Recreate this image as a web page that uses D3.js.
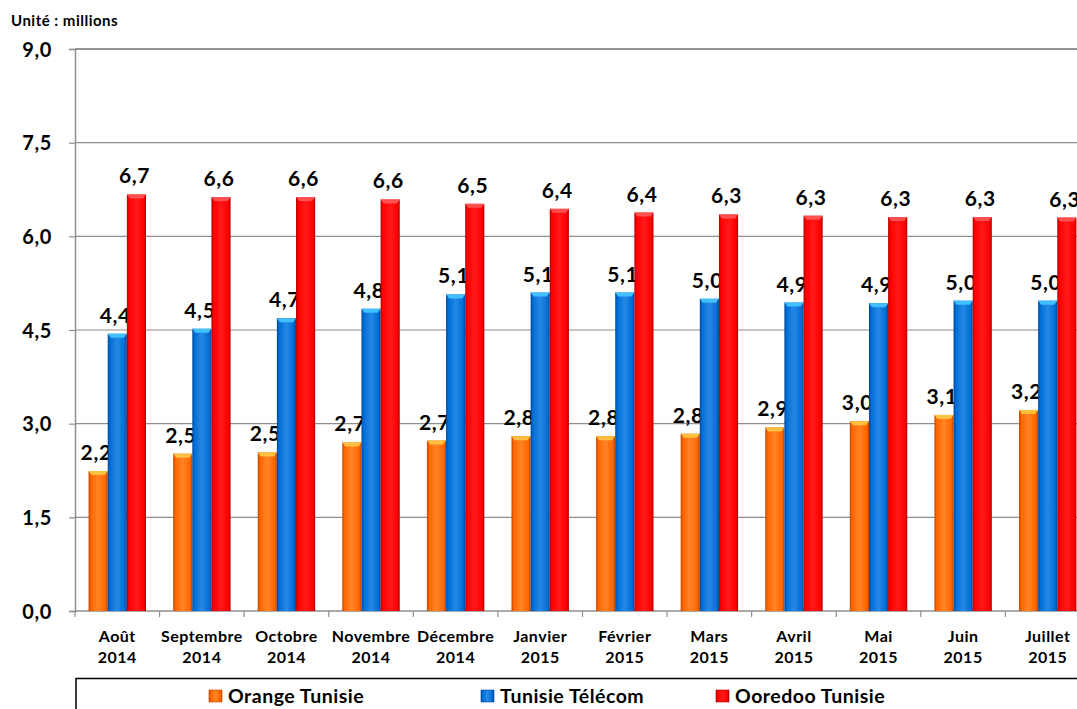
<!DOCTYPE html>
<html><head><meta charset="utf-8">
<script src="https://cdn.jsdelivr.net/npm/d3@7"></script>
<style>
html,body{margin:0;padding:0;background:#fff;overflow:hidden}
svg{display:block;font-family:Lato,"Open Sans",sans-serif}
</style></head>
<body>
<script>
const categories = [["Août","2014"],["Septembre","2014"],["Octobre","2014"],["Novembre","2014"],["Décembre","2014"],["Janvier","2015"],["Février","2015"],["Mars","2015"],["Avril","2015"],["Mai","2015"],["Juin","2015"],["Juillet","2015"]];
const seriesNames = ["Orange Tunisie","Tunisie Télécom","Ooredoo Tunisie"];
const orangeValues = [2.24,2.52,2.54,2.70,2.73,2.80,2.80,2.84,2.94,3.04,3.14,3.22];
const telecomValues = [4.44,4.52,4.69,4.84,5.07,5.10,5.10,5.00,4.94,4.93,4.97,4.97];
const ooredooValues = [6.67,6.63,6.63,6.59,6.52,6.44,6.38,6.35,6.33,6.31,6.31,6.30];
const yTicks = [0,1.5,3,4.5,6,7.5,9];
const unitLabel = "Unité : millions";

const seriesValues = [orangeValues, telecomValues, ooredooValues];
const colors = [
  {id:"gO", dark:"#c04400", mid:"#ff6600", light:"#ff8426", top:"#ffc040"},
  {id:"gB", dark:"#00459a", mid:"#006ed6", light:"#2688e6", top:"#40c0ff"},
  {id:"gR", dark:"#b00000", mid:"#ff0000", light:"#ff1a1a", top:"#ff5050"}
];

const W = 1077, H = 709;
const svg = d3.select("body").append("svg").attr("width", W).attr("height", H);
const defs = svg.append("defs");
colors.forEach(c => {
  const g = defs.append("linearGradient").attr("id", c.id).attr("x1","0").attr("x2","1").attr("y1","0").attr("y2","0");
  g.append("stop").attr("offset","0%").attr("stop-color", c.dark);
  g.append("stop").attr("offset","12%").attr("stop-color", c.mid);
  g.append("stop").attr("offset","50%").attr("stop-color", c.light);
  g.append("stop").attr("offset","88%").attr("stop-color", c.mid);
  g.append("stop").attr("offset","100%").attr("stop-color", c.dark);
});

const mLeft = 75, mTop = 49, mBottom = 611, plotRight = 1090;
const x = d3.scaleBand().domain(d3.range(categories.length)).range([mLeft, plotRight]);
const xs = d3.scaleBand().domain(d3.range(seriesNames.length)).range([0, x.bandwidth()]).paddingInner(0).paddingOuter(0.71);
const y = d3.scaleLinear().domain([0, 9]).range([mBottom, mTop]);

// gridlines
svg.append("g").selectAll("line").data(yTicks.filter(t => t > 0)).join("line")
  .attr("x1", mLeft).attr("x2", W).attr("y1", d => y(d)).attr("y2", d => y(d))
  .attr("stroke", d => d === 9 ? "#6e6e6e" : "#8e8e8e").attr("stroke-width", d => d === 9 ? 1.5 : 1.2);

// y axis
const yAxis = d3.axisLeft(y).tickValues(yTicks).tickSize(6).tickPadding(17)
  .tickFormat(d => d3.format(".1f")(d).replace(".", ","));
const ya = svg.append("g").attr("transform", `translate(${mLeft},0)`).call(yAxis);
ya.select(".domain").attr("stroke", "#8e8e8e").attr("stroke-width", 1.5);
ya.selectAll(".tick line").attr("stroke", "#8e8e8e").attr("stroke-width", 1.2);
ya.selectAll(".tick text").attr("font-family", "Lato, sans-serif").attr("font-weight", "bold")
  .attr("font-size", 20).attr("letter-spacing", 0.6).attr("fill", "#000").attr("dy", "0.36em");

// x axis baseline + ticks
svg.append("line").attr("x1", mLeft).attr("x2", W).attr("y1", mBottom).attr("y2", mBottom)
  .attr("stroke", "#8e8e8e").attr("stroke-width", 1.5);
svg.append("g").selectAll("line").data(d3.range(categories.length + 1)).join("line")
  .attr("x1", i => mLeft + i * x.step()).attr("x2", i => mLeft + i * x.step())
  .attr("y1", mBottom).attr("y2", mBottom + 6).attr("stroke", "#8e8e8e").attr("stroke-width", 1.2);

// bars
const groups = svg.append("g").selectAll("g").data(categories).join("g")
  .attr("transform", (d, i) => `translate(${x(i)},0)`);
seriesNames.forEach((s, si) => {
  const vals = seriesValues[si];
  const c = colors[si];
  groups.append("rect")
    .attr("x", xs(si)).attr("width", xs.bandwidth())
    .attr("y", (d, i) => y(vals[i])).attr("height", (d, i) => mBottom - y(vals[i]))
    .attr("fill", `url(#${c.id})`);
  groups.append("path")
    .attr("d", (d, i) => {
      const x0 = xs(si), w = xs.bandwidth(), t = y(vals[i]);
      return `M${x0},${t}L${x0 + w},${t}L${x0 + w - 3},${t + 4}L${x0 + 3},${t + 4}Z`;
    })
    .attr("fill", c.top);
  groups.append("text")
    .attr("x", xs(si) + xs.bandwidth() / 2 - 2)
    .attr("y", (d, i) => y(vals[i]) - 11)
    .attr("text-anchor", "middle")
    .attr("font-weight", "bold").attr("font-size", 21).attr("letter-spacing", 0.6).attr("fill", "#000")
    .text((d, i) => d3.format(".1f")(vals[i]).replace(".", ","));
});

// category labels
const cl = svg.append("g").selectAll("text").data(categories).join("text")
  .attr("x", (d, i) => x(i) + x.bandwidth() / 2)
  .attr("text-anchor", "middle").attr("font-weight", "bold").attr("font-size", 16).attr("letter-spacing", 0.5).attr("fill", "#000");
cl.append("tspan").attr("x", (d, i) => x(i) + x.bandwidth() / 2).attr("y", 642).text(d => d[0]);
cl.append("tspan").attr("x", (d, i) => x(i) + x.bandwidth() / 2).attr("y", 663).text(d => d[1]);

// unit label
svg.append("text").attr("x", 11).attr("y", 26).attr("font-weight", "bold").attr("font-size", 15)
  .attr("letter-spacing", 0.5).attr("fill", "#000").text(unitLabel);

// legend
svg.append("path").attr("d", `M76,${H + 2}L76,678.5L${W + 2},678.5`).attr("fill", "none")
  .attr("stroke", "#000").attr("stroke-width", 1.5);
const legendX = [209, 481, 716];
const lg = svg.append("g").selectAll("g").data(seriesNames).join("g")
  .attr("transform", (d, i) => `translate(${legendX[i]},0)`);
lg.append("rect").attr("x", 0).attr("y", 690).attr("width", 13).attr("height", 12)
  .attr("fill", (d, i) => `url(#${colors[i].id})`).attr("stroke", (d, i) => colors[i].dark).attr("stroke-width", 0.6);
lg.append("text").attr("x", 19).attr("y", 703).attr("font-weight", "bold").attr("font-size", 19.5)
  .attr("letter-spacing", 0.5).attr("fill", "#000").text(d => d);
</script>
</body></html>
